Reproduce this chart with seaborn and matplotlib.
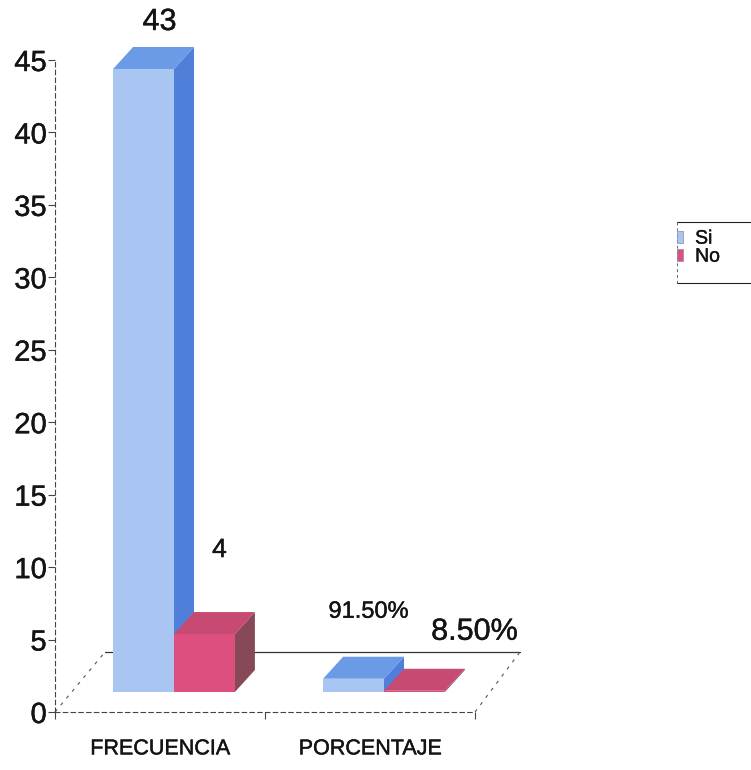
import matplotlib
matplotlib.use("Agg")
import matplotlib.pyplot as plt
import matplotlib.transforms as mtransforms
import matplotlib.patheffects as pe
from matplotlib.patches import Polygon, Patch
from matplotlib.lines import Line2D
import seaborn as sns
import pandas as pd

# ---- data -------------------------------------------------------------
categorias = ["FRECUENCIA", "PORCENTAJE"]
respuestas = ["Si", "No"]
frecuencia = [43, 4]
porcentaje = [0.915, 0.085]
y_ticks = [0, 5, 10, 15, 20, 25, 30, 35, 40, 45]

df = pd.DataFrame({
    "categoria": [c for c in categorias for _ in respuestas],
    "respuesta": respuestas * len(categorias),
    "valor": [frecuencia[0], frecuencia[1], porcentaje[0], porcentaje[1]],
})

# ---- style ------------------------------------------------------------
sns.set_theme(style="white")
plt.rcParams["font.family"] = ["Liberation Sans", "DejaVu Sans"]
TXT = "#141414"
heavy = [pe.withStroke(linewidth=0.3, foreground=TXT)]

front = {"Si": "#a9c6f2", "No": "#dc4f7e"}
top = {"Si": "#6b9be6", "No": "#c64a72"}
side = {"Si": "#4f7fd8", "No": "#874858"}

W, H, DPI = 751, 770, 100
fig = plt.figure(figsize=(W / DPI, H / DPI), dpi=DPI)
fig.patch.set_facecolor("white")

# plot frame in pixels: left 55, right 475, bottom 712, top 60
ax_l, ax_r, ax_b, ax_t = 55, 475, 712, 60
ax = fig.add_axes([ax_l / W, (H - ax_b) / H, (ax_r - ax_l) / W, (ax_b - ax_t) / H])
ax.set_facecolor("white")

sns.barplot(data=df, x="categoria", y="valor", hue="respuesta",
            order=categorias, hue_order=respuestas, palette=front,
            width=0.58, saturation=1, linewidth=0, legend=False, ax=ax)

ax.set_xlim(-0.5, 1.5)
ax.set_ylim(0, 45)
ax.set_yticks(y_ticks)
ax.set_xlabel("")
ax.set_ylabel("")

# oblique projection: bars sit in a plane set back from the front axis
px_x = (ax_r - ax_l) / 2.0
px_y = (ax_b - ax_t) / 45.0
plane = ax.transData + mtransforms.ScaledTranslation(14 / DPI, 20 / DPI, fig.dpi_scale_trans)
ddx, ddy = 20 / px_x, 22 / px_y

# floor of the 3-D box (display pixels), kept behind the bars
fdx, fdy = 50, 60
ident = mtransforms.IdentityTransform()
(x0, y0), (x1, _) = ax.transAxes.transform([(0, 0), (1, 0)])
ax.add_artist(Line2D([x0 + fdx, x1 + fdx - 5], [y0 + fdy] * 2, transform=ident,
                     color="#333333", lw=0.9, zorder=0.5, clip_on=False))
for xa, shift in ((x0, fdx), (x1, fdx - 5)):
    ax.add_artist(Line2D([xa, xa + shift], [y0, y0 + fdy], transform=ident,
                         color="#555555", lw=0.8, ls=(0, (3, 5)), zorder=0.5, clip_on=False))

# bars: shift the front face into the bar plane and add top / side faces
bars = sorted(ax.patches, key=lambda p: p.get_x())
for p in bars:
    x, w, h = p.get_x(), p.get_width(), p.get_height()
    cat = int(round(x + w / 2))
    hue = "Si" if (x + w / 2) < cat else "No"
    z = 2 if hue == "Si" else 3
    p.set_transform(plane)
    p.set_zorder(z + 0.2)
    side_face = Polygon([(x + w, 0), (x + w, h), (x + w + ddx, h + ddy), (x + w + ddx, ddy)],
                        closed=True, transform=plane, facecolor=side[hue],
                        edgecolor="none", zorder=z, clip_on=False)
    top_face = Polygon([(x, h), (x + w, h), (x + w + ddx, h + ddy), (x + ddx, h + ddy)],
                       closed=True, transform=plane, facecolor=top[hue],
                       edgecolor="none", zorder=z + 0.1, clip_on=False)
    ax.add_patch(side_face)
    ax.add_patch(top_face)

# value labels
etiquetas = {
    (0, "Si"): (f"{frecuencia[0]}", 22, (16, 47)),
    (0, "No"): (f"{frecuencia[1]}", 19, (15, 84)),
    (1, "Si"): (f"{porcentaje[0]:.2%}", 17, (15, 67)),
    (1, "No"): (f"{porcentaje[1]:.2%}", 22, (60, 59)),
}
for p in bars:
    x, w, h = p.get_x(), p.get_width(), p.get_height()
    cat = int(round(x + w / 2))
    hue = "Si" if (x + w / 2) < cat else "No"
    txt, fs, off = etiquetas[(cat, hue)]
    ax.annotate(txt, xy=(x + w / 2, h), xycoords=plane, xytext=off,
                textcoords="offset pixels", ha="center", va="center",
                fontsize=fs, color=TXT, annotation_clip=False, zorder=5,
                path_effects=heavy)

# axes lines and ticks
for s in ("top", "right"):
    ax.spines[s].set_visible(False)
for s in ("left", "bottom"):
    ax.spines[s].set_linestyle((0, (4, 3)))
    ax.spines[s].set_color("#444444")
    ax.spines[s].set_linewidth(0.8)
ax.tick_params(axis="y", left=True, length=5, width=0.8, color="#444444",
               labelsize=21, labelcolor=TXT, pad=1)
ax.tick_params(axis="x", bottom=False, labelsize=15.5, labelcolor=TXT, pad=13)
ax.set_xticks([-0.5, 0.5, 1.5], minor=True)
ax.tick_params(axis="x", which="minor", bottom=True, length=5, width=0.8, color="#444444")
for lbl in ax.get_xticklabels() + ax.get_yticklabels():
    lbl.set_path_effects(heavy)

# legend at the right
handles = [Patch(facecolor=front[r], edgecolor="#8888aa", lw=0.5, label=r) for r in respuestas]
leg = fig.legend(handles=handles, loc="upper left", bbox_to_anchor=(663 / W, 1 - 217 / H),
                 frameon=False, fontsize=14, handlelength=0.35, handleheight=0.6,
                 handletextpad=0.6, labelspacing=0.05, borderpad=0.2, labelcolor=TXT)
for t in leg.get_texts():
    t.set_path_effects(heavy)
fig.add_artist(Line2D([677 / W, 1], [1 - 222 / H] * 2, transform=fig.transFigure, color="#222222", lw=0.8))
fig.add_artist(Line2D([677 / W, 1], [1 - 283 / H] * 2, transform=fig.transFigure, color="#222222", lw=0.8))
fig.add_artist(Line2D([677 / W] * 2, [1 - 222 / H, 1 - 283 / H], transform=fig.transFigure,
                      color="#666666", lw=0.7, ls=(0, (3, 3))))

fig.savefig("out.png", dpi=DPI, facecolor="white")
